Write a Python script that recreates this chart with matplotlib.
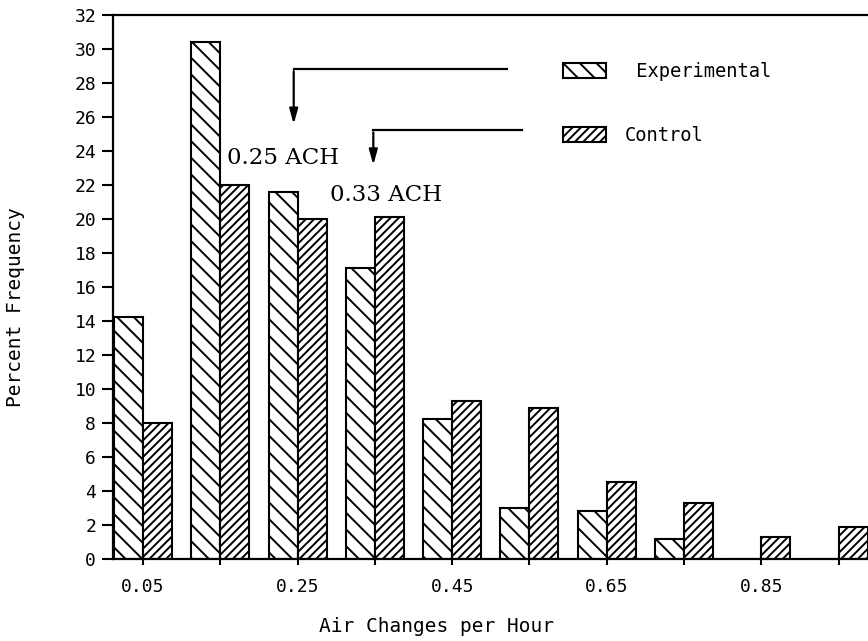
import numpy as np
import matplotlib.pyplot as plt

# air change bins (lower label = bin centre)
ach_bins = ["0.05", "0.15", "0.25", "0.35", "0.45", "0.55", "0.65", "0.75", "0.85", "0.95"]
experimental = [14.2, 30.4, 21.6, 17.1, 8.2, 3.0, 2.8, 1.2, 0.0, 0.0]
control = [8.0, 22.0, 20.0, 20.1, 9.3, 8.9, 4.5, 3.3, 1.3, 1.9]
yticks = list(range(0, 33, 2))

plt.rcParams['hatch.linewidth'] = 1.4

fig = plt.figure(figsize=(8.68, 6.41), dpi=100)
ax = fig.add_axes([0.130, 0.128, 0.870, 0.849])

x = np.arange(len(ach_bins))
w = 0.375
ax.bar(x - w / 2, experimental, width=w, facecolor='white', edgecolor='black',
       hatch='\\\\', linewidth=1.5, label=' Experimental')
ax.bar(x + w / 2, control, width=w, facecolor='white', edgecolor='black',
       hatch='////', linewidth=1.5, label='Control')

ax.set_xlim(-0.39, 9.38)
ax.set_ylim(0, 32)
ax.spines['right'].set_visible(False)
for s in ['left', 'top', 'bottom']:
    ax.spines[s].set_linewidth(1.6)

ax.set_xticks(x)
ax.set_xticklabels([lab if i % 2 == 0 else '' for i, lab in enumerate(ach_bins)])
ax.set_yticks(yticks)
ax.tick_params(axis='x', direction='inout', length=9, width=1.5, pad=9)
ax.tick_params(axis='y', direction='out', length=8, width=1.5, pad=4)
for lab in ax.get_xticklabels() + ax.get_yticklabels():
    lab.set_family('DejaVu Sans Mono')
    lab.set_fontsize(13)

ax.set_xlabel('Air Changes per Hour', family='DejaVu Sans Mono', fontsize=14)
ax.set_ylabel('Percent Frequency', family='DejaVu Sans Mono', fontsize=14)
ax.xaxis.set_label_coords(0.429, -0.106)
ax.yaxis.set_label_coords(-0.116, 0.463)

# arrows marking the mean values
ax.plot([4.71, 1.95], [28.8, 28.8], color='black', lw=1.6)
ax.annotate('', xy=(1.95, 25.4), xytext=(1.95, 28.85),
            arrowprops=dict(arrowstyle='-|>,head_length=0.9,head_width=0.25', color='black', lw=1.6))
ax.plot([4.90, 2.98], [25.2, 25.2], color='black', lw=1.6)
ax.annotate('', xy=(2.98, 23.0), xytext=(2.98, 25.25),
            arrowprops=dict(arrowstyle='-|>,head_length=0.9,head_width=0.25', color='black', lw=1.6))
ax.text(1.09, 23.6, '0.25 ACH', family='DejaVu Serif', fontsize=16.5, va='center', ha='left')
ax.text(2.42, 21.4, '0.33 ACH', family='DejaVu Serif', fontsize=16.5, va='center', ha='left')

leg = ax.legend(loc='upper left', bbox_to_anchor=(563 / 868, 1 - 62 / 641),
                bbox_transform=fig.transFigure, frameon=False, borderpad=0,
                borderaxespad=0, handlelength=2.3, handleheight=0.9,
                labelspacing=2.4, handletextpad=1.0,
                prop={'family': 'DejaVu Sans Mono', 'size': 13.5})

fig.savefig('out.png', dpi=100)
